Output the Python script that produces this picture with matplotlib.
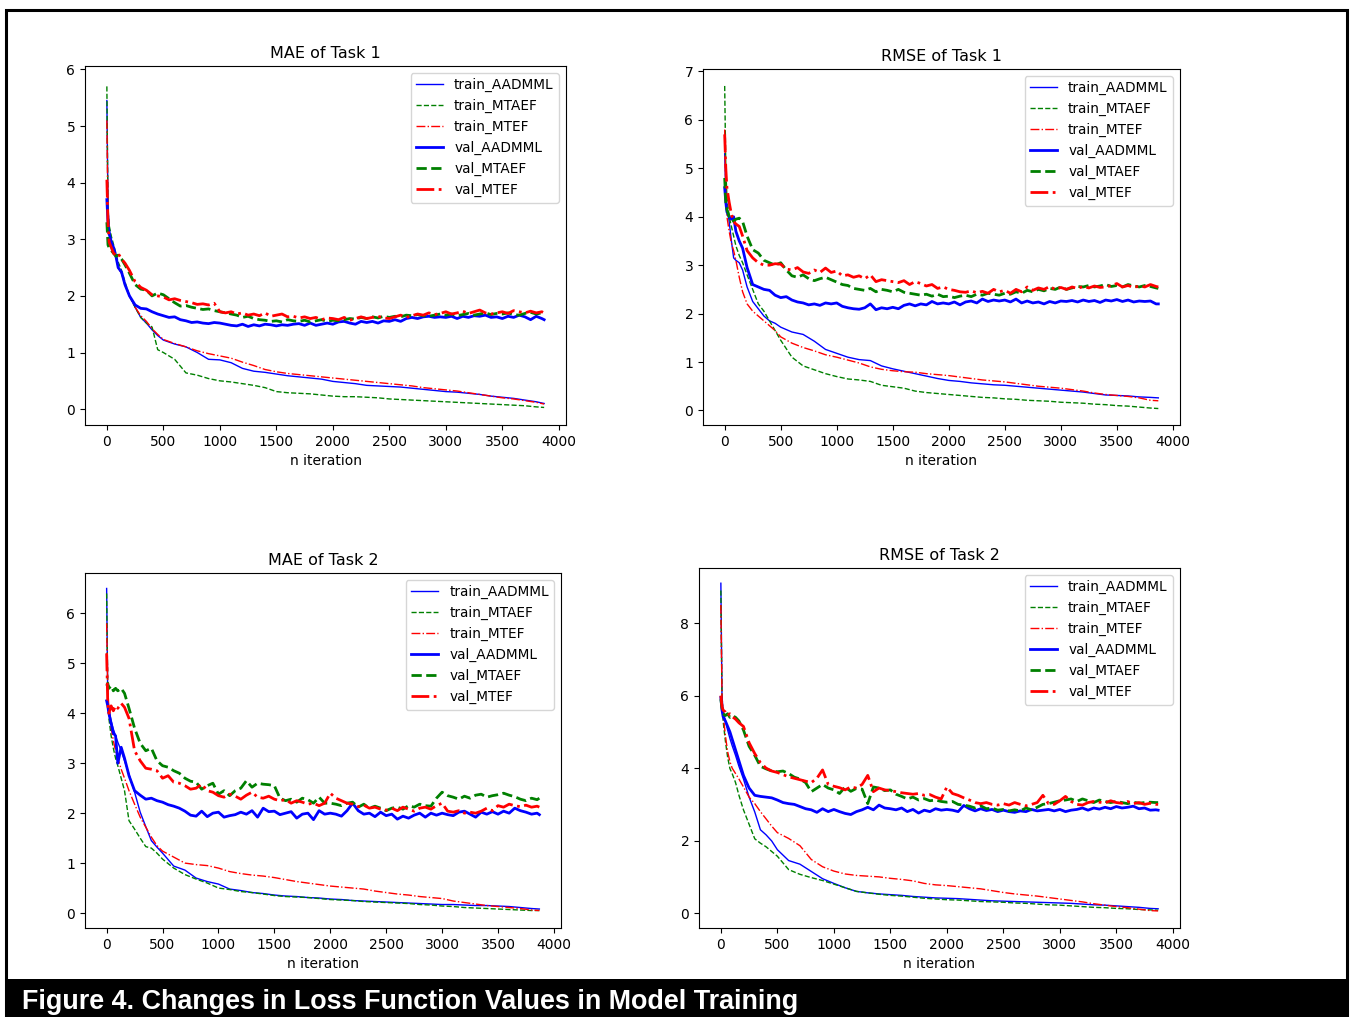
import matplotlib
matplotlib.use("Agg")
import matplotlib.pyplot as plt
from matplotlib.patches import Rectangle

# ---------------- iteration grids ----------------
ITER_TRAIN = [0, 10, 20, 40, 60, 80, 100, 130, 160, 200, 250, 300, 350, 400, 450] + list(range(500, 3900, 100)) + [3870]
ITER_VAL = [0, 10, 20, 40, 60, 80, 100, 130, 160, 200, 250, 300, 350, 400, 450] + list(range(500, 3900, 50)) + [3870]

# ---------------- MAE of Task 1 ----------------
mae1_train_AADMML = [5.45, 3.6, 3.2, 2.95, 2.8, 2.72, 2.5, 2.4, 2.2, 2.0, 1.8, 1.62, 1.52, 1.4, 1.3,
                     1.22, 1.15, 1.1, 1.0, 0.88, 0.87, 0.82, 0.72, 0.67, 0.65,
                     0.62, 0.59, 0.57, 0.55, 0.53, 0.49, 0.47, 0.45, 0.42, 0.41,
                     0.4, 0.39, 0.37, 0.35, 0.33, 0.31, 0.3, 0.28, 0.26, 0.23,
                     0.21, 0.19, 0.16, 0.13, 0.1]
mae1_train_MTAEF = [5.7, 3.5, 3.25, 3.05, 2.9, 2.75, 2.6, 2.45, 2.25, 2.0, 1.8, 1.62, 1.52, 1.45, 1.05,
                    1.0, 0.88, 0.64, 0.6, 0.54, 0.5, 0.48, 0.45, 0.42, 0.38,
                    0.31, 0.29, 0.28, 0.27, 0.25, 0.23, 0.22, 0.22, 0.21, 0.2,
                    0.18, 0.17, 0.16, 0.15, 0.14, 0.13, 0.12, 0.11, 0.1, 0.09,
                    0.08, 0.07, 0.06, 0.04, 0.03]
mae1_train_MTEF = [5.1, 3.4, 3.1, 2.95, 2.8, 2.7, 2.5, 2.4, 2.2, 2.0, 1.8, 1.65, 1.55, 1.42, 1.32,
                   1.23, 1.16, 1.1, 1.03, 0.98, 0.94, 0.9, 0.83, 0.77, 0.7,
                   0.66, 0.63, 0.61, 0.59, 0.57, 0.55, 0.53, 0.51, 0.49, 0.47,
                   0.45, 0.43, 0.41, 0.38, 0.36, 0.34, 0.32, 0.29, 0.26, 0.23,
                   0.2, 0.18, 0.15, 0.12, 0.09]
mae1_val_AADMML = [3.7, 3.3, 3.1, 2.95, 2.85, 2.7, 2.5, 2.42, 2.2, 2.0, 1.84, 1.78, 1.77, 1.72, 1.68,
                   1.65, 1.62, 1.63, 1.58, 1.56, 1.53, 1.54, 1.52, 1.51, 1.53,
                   1.52, 1.5, 1.48, 1.47, 1.5, 1.46, 1.49, 1.47, 1.5, 1.49,
                   1.47, 1.49, 1.48, 1.5, 1.51, 1.48, 1.52, 1.48, 1.5, 1.52,
                   1.5, 1.54, 1.55, 1.52, 1.5, 1.55, 1.53, 1.55, 1.52, 1.56,
                   1.55, 1.58, 1.55, 1.6, 1.62, 1.6, 1.63, 1.64, 1.62, 1.63,
                   1.62, 1.64, 1.6, 1.64, 1.62, 1.65, 1.64, 1.66, 1.62, 1.63,
                   1.6, 1.64, 1.62, 1.66, 1.63, 1.58, 1.64, 1.6, 1.58]
mae1_val_MTAEF = [3.3, 2.9, 2.85, 2.8, 2.75, 2.7, 2.72, 2.65, 2.55, 2.4, 2.2, 2.12, 2.1, 2.0, 2.05,
                  2.02, 1.95, 1.88, 1.82, 1.83, 1.8, 1.78, 1.76, 1.77, 1.74,
                  1.72, 1.7, 1.68, 1.66, 1.62, 1.64, 1.6, 1.58, 1.57, 1.55,
                  1.56, 1.54, 1.58, 1.56, 1.55, 1.57, 1.54, 1.56, 1.58, 1.55,
                  1.57, 1.56, 1.58, 1.6, 1.59, 1.62, 1.6, 1.63, 1.61, 1.64,
                  1.62, 1.64, 1.63, 1.66, 1.65, 1.67, 1.65, 1.64, 1.66, 1.68,
                  1.66, 1.68, 1.65, 1.67, 1.69, 1.66, 1.68, 1.7, 1.67, 1.69,
                  1.68, 1.7, 1.67, 1.66, 1.69, 1.71, 1.68, 1.7, 1.7]
mae1_val_MTEF = [4.05, 3.3, 2.95, 2.85, 2.75, 2.72, 2.75, 2.65, 2.58, 2.45, 2.25, 2.15, 2.1, 2.02, 2.0,
                 1.98, 1.93, 1.95, 1.92, 1.9, 1.88, 1.85, 1.86, 1.84, 1.87,
                 1.72, 1.7, 1.72, 1.68, 1.7, 1.66, 1.68, 1.65, 1.7, 1.64,
                 1.66, 1.68, 1.63, 1.64, 1.61, 1.63, 1.6, 1.62, 1.58, 1.61,
                 1.6, 1.58, 1.62, 1.57, 1.6, 1.63, 1.6, 1.62, 1.64, 1.61,
                 1.6, 1.63, 1.66, 1.62, 1.65, 1.68, 1.66, 1.7, 1.67, 1.69,
                 1.72, 1.68, 1.7, 1.73, 1.69, 1.72, 1.75, 1.7, 1.68, 1.7,
                 1.72, 1.69, 1.74, 1.72, 1.7, 1.73, 1.7, 1.72, 1.7]

# ---------------- RMSE of Task 1 ----------------
rmse1_train_AADMML = [5.3, 4.5, 4.2, 3.9, 3.5, 3.15, 3.1, 3.05, 2.9, 2.55, 2.25, 2.1, 1.95, 1.85, 1.8,
                      1.72, 1.62, 1.57, 1.43, 1.26, 1.18, 1.1, 1.05, 1.03, 0.92,
                      0.86, 0.81, 0.76, 0.71, 0.66, 0.62, 0.6, 0.57, 0.55, 0.53,
                      0.52, 0.5, 0.48, 0.46, 0.44, 0.42, 0.4, 0.38, 0.35, 0.32,
                      0.31, 0.3, 0.28, 0.27, 0.26]
rmse1_train_MTAEF = [6.7, 5.0, 4.4, 4.0, 3.8, 3.6, 3.4, 3.2, 3.05, 2.8, 2.5, 2.2, 2.05, 1.85, 1.65,
                     1.45, 1.1, 0.92, 0.84, 0.76, 0.7, 0.65, 0.63, 0.6, 0.52,
                     0.49, 0.46, 0.4, 0.37, 0.35, 0.33, 0.31, 0.29, 0.27, 0.26,
                     0.24, 0.23, 0.21, 0.2, 0.19, 0.17, 0.16, 0.15, 0.13, 0.12,
                     0.1, 0.09, 0.07, 0.05, 0.04]
rmse1_train_MTEF = [5.8, 4.5, 4.0, 3.7, 3.45, 3.3, 3.1, 2.75, 2.45, 2.2, 2.05, 1.95, 1.85, 1.75, 1.65,
                    1.52, 1.39, 1.3, 1.23, 1.15, 1.1, 1.04, 0.98, 0.9, 0.85,
                    0.82, 0.8, 0.79, 0.76, 0.74, 0.72, 0.69, 0.66, 0.63, 0.61,
                    0.59, 0.56, 0.53, 0.5, 0.48, 0.46, 0.43, 0.4, 0.36, 0.33,
                    0.31, 0.29, 0.26, 0.21, 0.2]
rmse1_val_AADMML = [4.6, 4.3, 4.1, 4.0, 3.95, 4.0, 3.7, 3.5, 3.35, 2.95, 2.6, 2.55, 2.5, 2.48, 2.38,
                    2.33, 2.35, 2.28, 2.24, 2.22, 2.18, 2.2, 2.17, 2.22, 2.2,
                    2.22, 2.15, 2.12, 2.1, 2.09, 2.12, 2.2, 2.08, 2.12, 2.1,
                    2.13, 2.1, 2.17, 2.2, 2.16, 2.2, 2.18, 2.25, 2.2, 2.22,
                    2.2, 2.24, 2.18, 2.24, 2.26, 2.22, 2.3, 2.25, 2.28, 2.26,
                    2.28, 2.24, 2.3, 2.22, 2.26, 2.22, 2.24, 2.2, 2.25, 2.22,
                    2.26, 2.25, 2.27, 2.24, 2.28, 2.25, 2.27, 2.23, 2.28, 2.26,
                    2.29, 2.25, 2.28, 2.24, 2.26, 2.25, 2.26, 2.2, 2.2]
rmse1_val_MTAEF = [4.8, 4.3, 4.15, 4.0, 3.98, 3.9, 3.95, 3.97, 3.9, 3.6, 3.32, 3.25, 3.1, 3.05, 3.0,
                   3.05, 2.9, 2.78, 2.75, 2.8, 2.72, 2.68, 2.72, 2.75, 2.7,
                   2.65, 2.6, 2.58, 2.52, 2.5, 2.48, 2.52, 2.45, 2.5, 2.48,
                   2.45, 2.5, 2.44, 2.42, 2.4, 2.38, 2.4, 2.36, 2.4, 2.35,
                   2.36, 2.33, 2.36, 2.38, 2.35, 2.4, 2.38, 2.42, 2.4, 2.38,
                   2.42, 2.4, 2.45, 2.42, 2.48, 2.45, 2.5, 2.47, 2.52, 2.5,
                   2.55, 2.5, 2.53, 2.56, 2.55, 2.58, 2.55, 2.57, 2.6, 2.56,
                   2.58, 2.55, 2.6, 2.57, 2.55, 2.58, 2.56, 2.53, 2.52]
rmse1_val_MTEF = [5.7, 5.0, 4.6, 4.3, 4.05, 3.9, 3.85, 3.8, 3.6, 3.3, 3.15, 3.05, 3.0, 3.0, 3.03,
                  3.02, 2.92, 2.9, 2.95, 2.86, 2.83, 2.9, 2.85, 2.94, 2.85,
                  2.88, 2.78, 2.8, 2.75, 2.78, 2.72, 2.8, 2.66, 2.7, 2.68,
                  2.66, 2.64, 2.68, 2.6, 2.66, 2.62, 2.57, 2.6, 2.52, 2.55,
                  2.5, 2.48, 2.45, 2.44, 2.47, 2.43, 2.46, 2.42, 2.5, 2.45,
                  2.48, 2.42, 2.5, 2.45, 2.55, 2.48, 2.53, 2.5, 2.56, 2.5,
                  2.54, 2.5, 2.55, 2.52, 2.56, 2.53, 2.57, 2.54, 2.55, 2.58,
                  2.62, 2.55, 2.58, 2.54, 2.57, 2.55, 2.6, 2.56, 2.55]

# ---------------- MAE of Task 2 ----------------
mae2_train_AADMML = [6.5, 4.3, 4.1, 3.85, 3.68, 3.55, 3.42, 3.25, 3.05, 2.78, 2.42, 2.02, 1.73, 1.45, 1.32,
                     1.2, 0.94, 0.86, 0.7, 0.63, 0.58, 0.48, 0.45, 0.41, 0.39,
                     0.36, 0.34, 0.33, 0.31, 0.3, 0.28, 0.27, 0.25, 0.24, 0.23,
                     0.22, 0.21, 0.2, 0.19, 0.18, 0.17, 0.17, 0.16, 0.15, 0.15,
                     0.14, 0.13, 0.11, 0.09, 0.08]
mae2_train_MTAEF = [6.4, 4.4, 3.9, 3.55, 3.3, 3.1, 2.95, 2.7, 2.45, 1.85, 1.68, 1.5, 1.33, 1.3, 1.2,
                    1.08, 0.9, 0.77, 0.68, 0.6, 0.5, 0.47, 0.43, 0.41, 0.38,
                    0.35, 0.33, 0.32, 0.31, 0.29, 0.27, 0.26, 0.25, 0.23, 0.22,
                    0.21, 0.2, 0.19, 0.17, 0.16, 0.14, 0.13, 0.11, 0.1, 0.09,
                    0.08, 0.07, 0.06, 0.05, 0.05]
mae2_train_MTEF = [5.8, 4.5, 4.1, 3.72, 3.45, 3.25, 3.1, 2.88, 2.7, 2.45, 2.18, 1.92, 1.72, 1.52, 1.35,
                   1.24, 1.12, 1.0, 0.97, 0.95, 0.9, 0.83, 0.79, 0.76, 0.74,
                   0.71, 0.67, 0.63, 0.6, 0.57, 0.54, 0.52, 0.5, 0.48, 0.44,
                   0.41, 0.38, 0.36, 0.33, 0.31, 0.29, 0.24, 0.21, 0.18, 0.15,
                   0.13, 0.11, 0.09, 0.06, 0.05]
mae2_val_AADMML = [4.25, 4.15, 4.0, 3.8, 3.6, 3.55, 3.0, 3.32, 3.1, 2.75, 2.45, 2.36, 2.28, 2.3, 2.25,
                   2.22, 2.17, 2.14, 2.1, 2.04, 1.96, 1.94, 2.04, 1.93, 2.0,
                   2.02, 1.92, 1.95, 1.97, 2.02, 1.98, 2.05, 1.92, 2.1, 2.03,
                   2.04, 1.97, 2.0, 2.03, 1.9, 1.98, 2.0, 1.87, 2.05, 1.98,
                   2.0, 1.98, 1.94, 2.05, 2.2, 2.05, 1.98, 2.0, 1.93, 2.02,
                   1.95, 1.98, 1.88, 1.94, 1.9, 1.96, 2.0, 1.92, 2.0, 1.96,
                   2.0, 1.97, 1.95, 2.02, 2.04, 1.98, 1.92, 2.02, 1.98, 2.03,
                   1.98, 2.04, 2.0, 2.1, 2.05, 2.02, 1.98, 2.0, 1.97]
mae2_val_MTAEF = [4.55, 4.6, 4.5, 4.55, 4.45, 4.5, 4.45, 4.5, 4.4, 4.1, 3.7, 3.4, 3.25, 3.3, 3.05,
                  2.95, 2.92, 2.85, 2.8, 2.7, 2.64, 2.62, 2.48, 2.55, 2.6,
                  2.38, 2.45, 2.35, 2.45, 2.5, 2.65, 2.52, 2.6, 2.58, 2.57,
                  2.55, 2.3, 2.25, 2.28, 2.22, 2.3, 2.27, 2.2, 2.32, 2.2,
                  2.2, 2.18, 2.15, 2.2, 2.22, 2.12, 2.18, 2.1, 2.14, 2.1,
                  2.05, 2.1, 2.12, 2.08, 2.15, 2.12, 2.18, 2.15, 2.14, 2.3,
                  2.42, 2.35, 2.32, 2.28, 2.34, 2.3, 2.36, 2.38, 2.32, 2.35,
                  2.37, 2.4, 2.36, 2.33, 2.28, 2.25, 2.3, 2.27, 2.3]
mae2_val_MTEF = [5.2, 4.2, 4.0, 4.15, 4.05, 4.15, 4.1, 4.2, 4.12, 3.9, 3.25, 3.05, 2.9, 2.88, 2.85,
                 2.7, 2.75, 2.62, 2.6, 2.55, 2.48, 2.5, 2.58, 2.45, 2.42,
                 2.35, 2.32, 2.38, 2.34, 2.28, 2.36, 2.42, 2.32, 2.3, 2.34,
                 2.28, 2.25, 2.27, 2.2, 2.25, 2.22, 2.18, 2.2, 2.15, 2.2,
                 2.4, 2.3, 2.25, 2.2, 2.18, 2.13, 2.16, 2.1, 2.12, 2.08,
                 2.06, 2.1, 2.05, 2.12, 2.08, 2.04, 2.1, 2.12, 2.08, 2.15,
                 2.2, 2.04, 2.02, 2.05, 2.0, 2.02, 2.0, 2.04, 2.1, 2.05,
                 2.15, 2.12, 2.18, 2.15, 2.13, 2.16, 2.12, 2.14, 2.12]

# ---------------- RMSE of Task 2 ----------------
rmse2_train_AADMML = [9.1, 6.0, 5.56, 5.3, 5.05, 4.82, 4.62, 4.35, 4.05, 3.7, 3.2, 2.79, 2.3, 2.16, 1.99,
                      1.75, 1.45, 1.35, 1.15, 0.95, 0.82, 0.7, 0.6, 0.56, 0.53,
                      0.51, 0.49, 0.46, 0.44, 0.42, 0.41, 0.4, 0.38, 0.36, 0.34,
                      0.33, 0.32, 0.31, 0.3, 0.29, 0.28, 0.27, 0.25, 0.23, 0.22,
                      0.2, 0.18, 0.16, 0.13, 0.12]
rmse2_train_MTAEF = [8.9, 6.0, 5.3, 4.75, 4.3, 3.99, 3.85, 3.6, 3.25, 2.85, 2.45, 2.05, 1.93, 1.83, 1.7,
                     1.57, 1.2, 1.07, 0.98, 0.9, 0.8, 0.7, 0.6, 0.56, 0.52,
                     0.49, 0.47, 0.44, 0.41, 0.39, 0.37, 0.36, 0.34, 0.32, 0.31,
                     0.3, 0.28, 0.27, 0.25, 0.23, 0.22, 0.2, 0.18, 0.16, 0.15,
                     0.13, 0.12, 0.1, 0.09, 0.08]
rmse2_train_MTEF = [8.5, 6.0, 5.5, 4.9, 4.45, 4.18, 4.0, 3.85, 3.7, 3.48, 3.2, 3.02, 2.8, 2.6, 2.4,
                    2.22, 2.06, 1.86, 1.48, 1.28, 1.16, 1.08, 1.04, 1.02, 1.0,
                    0.96, 0.93, 0.89, 0.82, 0.78, 0.76, 0.73, 0.7, 0.67, 0.62,
                    0.57, 0.53, 0.5, 0.47, 0.43, 0.39, 0.35, 0.31, 0.26, 0.22,
                    0.18, 0.15, 0.11, 0.07, 0.06]
rmse2_val_AADMML = [5.95, 5.6, 5.42, 5.3, 5.15, 5.0, 4.8, 4.5, 4.2, 3.8, 3.45, 3.25, 3.22, 3.2, 3.18,
                    3.12, 3.05, 3.02, 3.0, 2.94, 2.88, 2.85, 2.78, 2.88, 2.8,
                    2.86, 2.8, 2.75, 2.72, 2.8, 2.85, 2.92, 2.85, 2.98, 2.9,
                    2.88, 2.85, 2.9, 2.8, 2.86, 2.76, 2.84, 2.8, 2.88, 2.84,
                    2.86, 2.84, 2.8, 2.97, 2.88, 2.82, 2.88, 2.83, 2.86, 2.8,
                    2.84, 2.8, 2.78, 2.82, 2.8, 2.86, 2.82, 2.84, 2.86, 2.82,
                    2.86, 2.8, 2.84, 2.86, 2.9, 2.84, 2.9, 2.87, 2.92, 2.88,
                    2.94, 2.9, 2.92, 2.95, 2.88, 2.9, 2.84, 2.85, 2.84]
rmse2_val_MTAEF = [5.9, 5.65, 5.5, 5.45, 5.5, 5.4, 5.45, 5.4, 5.3, 5.05, 4.6, 4.35, 4.05, 3.98, 3.92,
                   3.9, 3.92, 3.85, 3.75, 3.7, 3.6, 3.35, 3.45, 3.55, 3.45,
                   3.4, 3.3, 3.48, 3.36, 3.44, 3.42, 3.02, 3.48, 3.45, 3.38,
                   3.4, 3.28, 3.22, 3.15, 3.2, 3.12, 3.16, 3.1, 3.12, 3.08,
                   3.06, 3.08, 3.0, 2.98, 2.95, 2.9, 2.96, 2.88, 2.9, 2.84,
                   2.86, 2.82, 2.85, 2.82, 2.9, 2.85, 2.92, 3.0, 3.02, 3.06,
                   3.1, 3.12, 3.15, 3.08, 3.15, 3.1, 3.05, 3.12, 3.08, 3.05,
                   3.08, 3.05, 3.02, 3.06, 3.03, 3.05, 3.06, 3.05, 3.05]
rmse2_val_MTEF = [6.0, 5.7, 5.6, 5.55, 5.45, 5.5, 5.42, 5.35, 5.25, 5.15, 4.7, 4.4, 4.15, 4.0, 3.92,
                  3.88, 3.82, 3.76, 3.72, 3.68, 3.64, 3.6, 3.72, 3.95, 3.55,
                  3.5, 3.46, 3.4, 3.48, 3.45, 3.55, 3.8, 3.35, 3.45, 3.4,
                  3.38, 3.35, 3.32, 3.3, 3.28, 3.3, 3.25, 3.27, 3.2, 3.15,
                  3.48, 3.3, 3.25, 3.18, 3.12, 3.05, 3.02, 3.05, 3.0, 2.98,
                  3.02, 2.98, 3.05, 3.0, 2.96, 3.0, 3.05, 3.25, 3.02, 3.0,
                  3.1, 3.22, 3.08, 3.0, 2.98, 3.05, 3.08, 3.06, 3.04, 3.1,
                  3.05, 3.03, 3.08, 3.02, 3.05, 3.0, 3.03, 3.0, 3.0]

TITLES = ["MAE of Task 1", "RMSE of Task 1", "MAE of Task 2", "RMSE of Task 2"]
LABELS = ["train_AADMML", "train_MTAEF", "train_MTEF", "val_AADMML", "val_MTAEF", "val_MTEF"]
CAPTION = "Figure 4. Changes in Loss Function Values in Model Training"
YLIMS = [(-0.28, 6.06), (-0.3, 7.05), (-0.3, 6.81), (-0.41, 9.52)]

PANELS = [
    (mae1_train_AADMML, mae1_train_MTAEF, mae1_train_MTEF, mae1_val_AADMML, mae1_val_MTAEF, mae1_val_MTEF),
    (rmse1_train_AADMML, rmse1_train_MTAEF, rmse1_train_MTEF, rmse1_val_AADMML, rmse1_val_MTAEF, rmse1_val_MTEF),
    (mae2_train_AADMML, mae2_train_MTAEF, mae2_train_MTEF, mae2_val_AADMML, mae2_val_MTAEF, mae2_val_MTEF),
    (rmse2_train_AADMML, rmse2_train_MTAEF, rmse2_train_MTEF, rmse2_val_AADMML, rmse2_val_MTAEF, rmse2_val_MTEF),
]

W, H = 1352, 1017
fig = plt.figure(figsize=(W / 100, H / 100), dpi=100)

def px_box(left, top, right, bottom):
    return [left / W, 1 - bottom / H, (right - left) / W, (bottom - top) / H]

BOXES = [px_box(85, 66, 566, 425), px_box(703, 69, 1180, 425),
         px_box(85, 573, 561, 928), px_box(699, 568, 1180, 928)]

STYLES = [
    dict(color="b", ls="-", lw=1.0),
    dict(color="g", ls="--", lw=1.0),
    dict(color="r", ls="-.", lw=1.0),
    dict(color="b", ls="-", lw=2.0),
    dict(color="g", ls="--", lw=2.0),
    dict(color="r", ls="-.", lw=2.0),
]

for box, title, series, ylim in zip(BOXES, TITLES, PANELS, YLIMS):
    ax = fig.add_axes(box)
    for i, (ys, lab, st) in enumerate(zip(series, LABELS, STYLES)):
        xs = ITER_TRAIN if i < 3 else ITER_VAL
        ax.plot(xs, ys, label=lab, **st)
    ax.set_title(title, fontsize=11.5)
    ax.set_xlabel("n iteration")
    ax.set_xticks([0, 500, 1000, 1500, 2000, 2500, 3000, 3500, 4000])
    ax.set_ylim(*ylim)
    ax.legend(loc="upper right", fontsize=9.8)

# outer frame and caption bar
fig.patches.append(Rectangle((6 / W, 0), (1346.5 - 6) / W, 1 - 9.5 / H,
                             transform=fig.transFigure, fill=False,
                             edgecolor="black", lw=2.2, zorder=10))
fig.patches.append(Rectangle((5 / W, 0), (1348 - 5) / W, (H - 979) / H,
                             transform=fig.transFigure, facecolor="black",
                             edgecolor="none", zorder=11))
fig.text(22 / W, 1 - 1002 / H, CAPTION, color="white", fontsize=19.4,
         fontweight="bold", family=["Liberation Sans", "DejaVu Sans"],
         va="center", ha="left", zorder=12)

fig.savefig("out.png", dpi=100)
